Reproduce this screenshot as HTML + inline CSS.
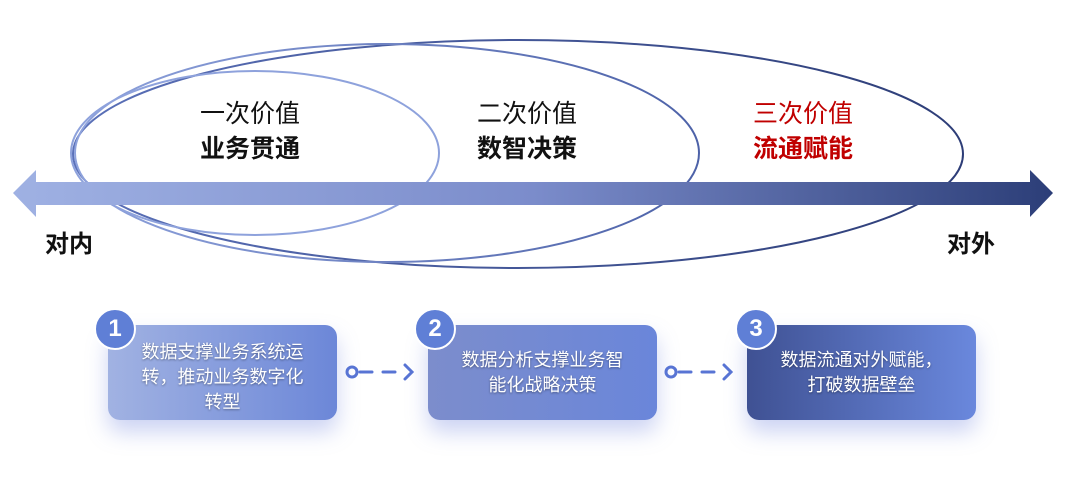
<!DOCTYPE html>
<html><head><meta charset="utf-8"><style>
body{margin:0;width:1080px;height:486px;background:#fff;overflow:hidden;position:relative;font-family:"Liberation Sans","Noto Sans CJK SC",sans-serif}
.t{position:absolute;text-align:center;font-size:25px;line-height:35px;color:#111}
.t b{font-weight:bold}
.box{position:absolute;top:325px;width:229px;height:95px;border-radius:12px;color:#fff;font-size:18px;line-height:25px;text-align:center;box-sizing:border-box;padding-top:15px;box-shadow:0 12px 22px rgba(110,130,220,0.35);text-shadow:0 1px 2px rgba(0,0,0,0.4)}
.badge{position:absolute;width:38px;height:38px;border-radius:50%;background:#5f7fd6;color:#fff;font-weight:bold;font-size:24px;line-height:38px;text-align:center;border:2px solid #fff}
</style></head><body>
<svg width="1080" height="486" style="position:absolute;left:0;top:0">
<defs>
<linearGradient id="ar" x1="0" x2="1"><stop offset="0" stop-color="#9fb1e3"/><stop offset="0.5" stop-color="#7b8ccb"/><stop offset="1" stop-color="#2c3e78"/></linearGradient>
<linearGradient id="e3" x1="0" x2="1"><stop offset="0" stop-color="#5a70b8"/><stop offset="1" stop-color="#2d3d77"/></linearGradient>
<linearGradient id="e2" x1="0" x2="1"><stop offset="0" stop-color="#8ea2dc"/><stop offset="1" stop-color="#4d62a8"/></linearGradient>
</defs>
<ellipse cx="518" cy="154" rx="445" ry="114" fill="none" stroke="url(#e3)" stroke-width="2"/>
<ellipse cx="387" cy="153" rx="312" ry="109" fill="none" stroke="url(#e2)" stroke-width="2"/>
<ellipse cx="255" cy="153" rx="184" ry="82" fill="none" stroke="#8ea2dc" stroke-width="2"/>
<polygon points="13,193 36,170 36,182 1030,182 1030,170 1053,193 1030,217 1030,205 36,205 36,217" fill="url(#ar)"/>
<g stroke="#5874d4" stroke-width="3" fill="none" stroke-linecap="round">
<circle cx="352" cy="372" r="5"/><line x1="360" y1="372" x2="372" y2="372"/><line x1="383" y1="372" x2="395" y2="372"/><polyline points="405,365 412,372 405,379"/>
<circle cx="671" cy="372" r="5"/><line x1="679" y1="372" x2="691" y2="372"/><line x1="702" y1="372" x2="714" y2="372"/><polyline points="724,365 731,372 724,379"/>
</g>
</svg>
<div class="t" style="left:150px;top:97px;width:200px">一次价值<br><b>业务贯通</b></div>
<div class="t" style="left:427px;top:97px;width:200px">二次价值<br><b>数智决策</b></div>
<div class="t" style="left:703px;top:97px;width:200px;color:#c00000">三次价值<br><b>流通赋能</b></div>
<div class="t" style="left:45px;top:227px;font-weight:bold;font-size:24px">对内</div>
<div class="t" style="left:947px;top:227px;font-weight:bold;font-size:24px">对外</div>
<div class="box" style="left:108px;background:linear-gradient(90deg,#a1b2e2,#6c87d8)">数据支撑业务系统运<br>转，推动业务数字化<br>转型</div>
<div class="box" style="left:428px;background:linear-gradient(90deg,#7c8dcc,#6a86da);padding-top:23px">数据分析支撑业务智<br>能化战略决策</div>
<div class="box" style="left:747px;background:linear-gradient(90deg,#3f5193,#6a88dd);padding-top:23px">数据流通对外赋能，<br>打破数据壁垒</div>
<div class="badge" style="left:94px;top:308px">1</div>
<div class="badge" style="left:414px;top:308px">2</div>
<div class="badge" style="left:735px;top:308px">3</div>
</body></html>
